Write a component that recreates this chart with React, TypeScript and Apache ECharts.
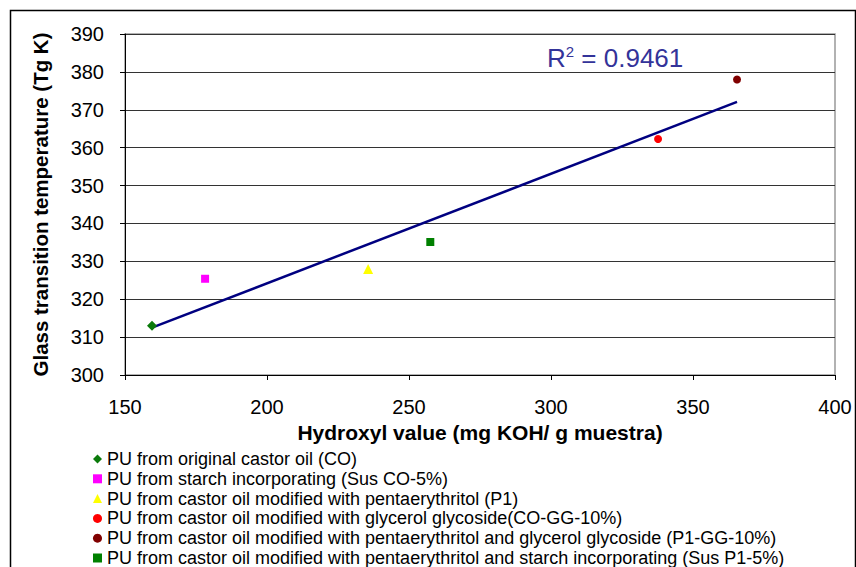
import React, { useEffect, useRef } from "react";
import * as echarts from "echarts";

const seriesNames = [
  "PU from original castor oil (CO)",
  "PU from starch incorporating (Sus CO-5%)",
  "PU from castor oil modified with pentaerythritol (P1)",
  "PU from castor oil modified with glycerol glycoside(CO-GG-10%)",
  "PU from castor oil modified with pentaerythritol and glycerol glycoside (P1-GG-10%)",
  "PU from castor oil modified with pentaerythritol and starch incorporating (Sus P1-5%)",
];
const hydroxylValues = [159.5, 178.2, 235.6, 337.7, 365.5, 257.5];
const tgValues = [313.0, 325.4, 328.0, 362.3, 378.0, 335.1];
const seriesColors = ["#0a7a0a", "#ff00ff", "#ffff00", "#ff0000", "#800000", "#008000"];
const seriesSymbols = ["diamond", "rect", "triangle", "circle", "circle", "rect"];
const symbolSizes = [10, 8, 10, 8, 8, 8];
const r2Label = "0.9461";

function regression(xs: number[], ys: number[]) {
  const n = xs.length;
  const mx = xs.reduce((a, b) => a + b, 0) / n;
  const my = ys.reduce((a, b) => a + b, 0) / n;
  let sxy = 0, sxx = 0;
  for (let i = 0; i < n; i++) {
    sxy += (xs[i] - mx) * (ys[i] - my);
    sxx += (xs[i] - mx) * (xs[i] - mx);
  }
  const slope = sxy / sxx;
  const b = my - slope * mx;
  const x0 = Math.min(...xs);
  const x1 = Math.max(...xs);
  return [[x0, slope * x0 + b], [x1, slope * x1 + b]];
}

export default function App() {
  const ref = useRef<HTMLDivElement>(null);
  useEffect(() => {
    if (!ref.current) return;
    const chart = echarts.init(ref.current, undefined, { renderer: "svg" });
    const font = "Liberation Sans, Arial, sans-serif";
    const trend = regression(hydroxylValues, tgValues);
    const scatter = seriesNames.map((name, i) => ({
      name,
      type: "scatter",
      data: [[hydroxylValues[i], tgValues[i]]],
      symbol: seriesSymbols[i],
      symbolSize: symbolSizes[i],
      itemStyle: { color: seriesColors[i], opacity: 1 },
      z: 5,
    }));
    chart.setOption({
      animation: false,
      backgroundColor: "#fff",
      textStyle: { fontFamily: font },
      grid: {
        left: 125,
        top: 34,
        width: 710,
        height: 341,
        show: true,
        borderColor: "#999",
        borderWidth: 1.5,
        backgroundColor: "transparent",
      },
      xAxis: {
        type: "value",
        min: 150,
        max: 400,
        interval: 50,
        name: "Hydroxyl value (mg KOH/ g muestra)",
        nameLocation: "middle",
        nameGap: 37,
        nameTextStyle: { fontSize: 21, fontWeight: "bold", color: "#000", fontFamily: font },
        axisLine: { show: true, lineStyle: { color: "#000", width: 1 } },
        axisTick: { show: true, inside: false, length: 5, lineStyle: { color: "#000" } },
        axisLabel: { fontSize: 20, color: "#000", margin: 22, fontFamily: font },
        splitLine: { show: false },
      },
      yAxis: {
        type: "value",
        min: 300,
        max: 390,
        interval: 10,
        name: "Glass transition temperature (Tg K)",
        nameLocation: "middle",
        nameGap: 74,
        nameTextStyle: { fontSize: 20.5, fontWeight: "bold", color: "#000", fontFamily: font },
        axisLine: { show: true, lineStyle: { color: "#000", width: 1 } },
        axisTick: { show: true, inside: false, length: 5, lineStyle: { color: "#000" } },
        axisLabel: { fontSize: 20, color: "#000", margin: 21, fontFamily: font },
        splitLine: { show: true, lineStyle: { color: "#333", width: 1 } },
      },
      legend: {
        data: seriesNames,
        orient: "vertical",
        left: 88,
        top: 445,
        height: 240,
        width: 780,
        itemWidth: 9,
        itemHeight: 9,
        itemGap: 1.8,
        textStyle: { fontSize: 18, color: "#000", lineHeight: 18, fontFamily: font },
        selectedMode: false,
      },
      graphic: [
        {
          type: "rect",
          shape: { x: 10.5, y: 10.5, width: 845, height: 700 },
          style: { fill: "none", stroke: "#000", lineWidth: 1.5 },
          silent: true,
        },
        {
          type: "text",
          left: 547,
          top: 44,
          style: {
            text: "R{sup|2} = " + r2Label,
            fill: "#333399",
            font: "26px Liberation Sans, Arial, sans-serif",
            rich: {
              sup: {
                fontSize: 15,
                fill: "#333399",
                verticalAlign: "top",
                padding: [0, 0, 12, 0],
                fontFamily: font,
              },
            },
          },
        },
      ],
      series: [
        ...scatter,
        {
          name: "trend",
          type: "line",
          data: trend,
          symbol: "none",
          lineStyle: { color: "#000080", width: 2.5 },
          z: 4,
          silent: true,
        },
      ],
    });
    return () => chart.dispose();
  }, []);
  return (
    <div
      ref={ref}
      style={{ position: "fixed", left: 0, top: 0, width: 856, height: 567 }}
    />
  );
}
